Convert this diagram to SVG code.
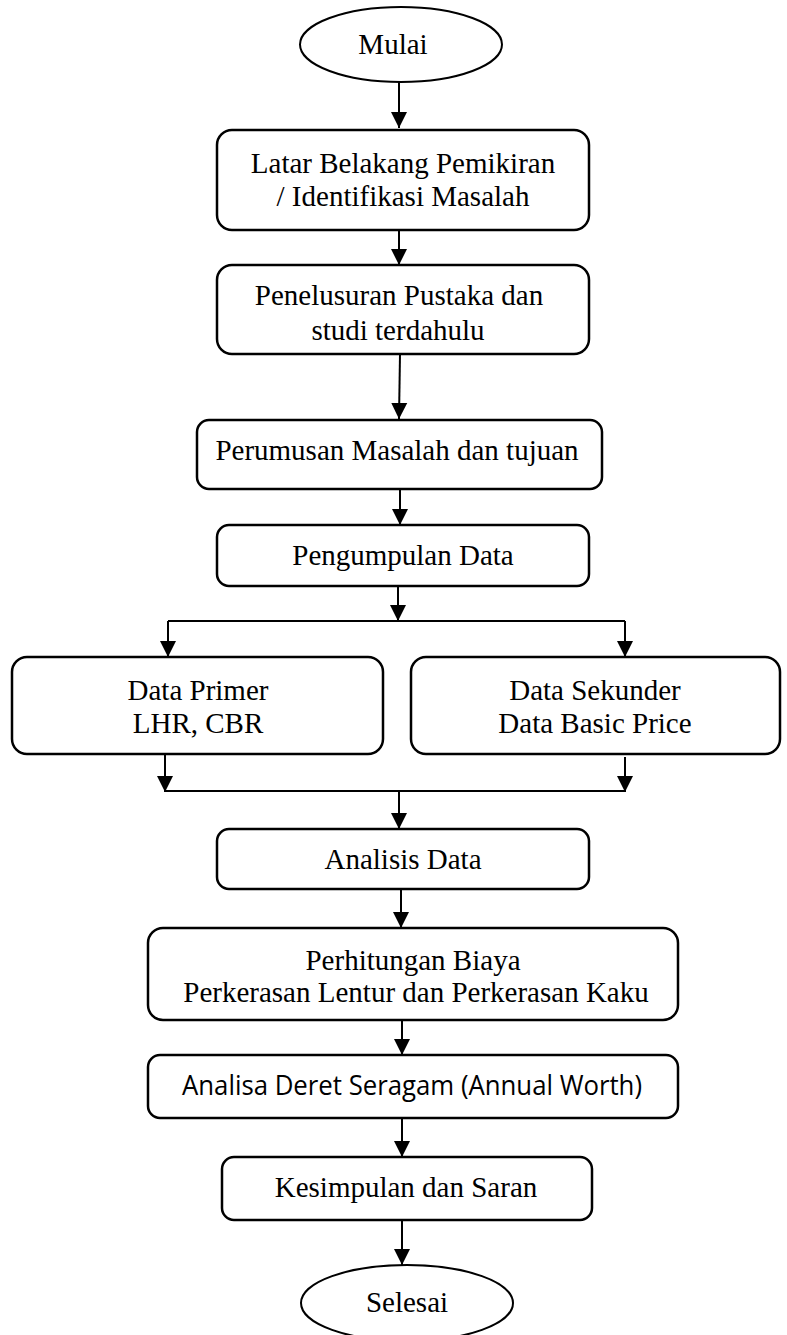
<svg xmlns="http://www.w3.org/2000/svg" width="787" height="1335" viewBox="0 0 787 1335">
<style>
.box{fill:#fff;stroke:#000;stroke-width:2.5}
.ell{fill:#fff;stroke:#000;stroke-width:2}
.t{font-family:"Liberation Serif","Times New Roman",serif;font-size:29px;fill:#000;text-anchor:middle}
.s{font-family:"Open Sans","Liberation Sans",sans-serif;font-size:28px;fill:#000;text-anchor:middle}
.c{fill:none;stroke:#000;stroke-width:2}
</style>
<defs>
<marker id="ah" markerUnits="userSpaceOnUse" markerWidth="18" markerHeight="18" viewBox="0 0 18 18" refX="16" refY="9" orient="auto">
<path d="M0,1 L16,9 L0,17 Z" fill="#000"/>
</marker>
</defs>
<rect width="787" height="1335" fill="#fff"/>
<g id="connectors">
<path class="c" d="M399,82 V128" marker-end="url(#ah)"/>
<path class="c" d="M399,230 V265" marker-end="url(#ah)"/>
<path class="c" d="M400,354 L399,419" marker-end="url(#ah)"/>
<path class="c" d="M400,489 V525" marker-end="url(#ah)"/>
<path class="c" d="M398,586 V621" marker-end="url(#ah)"/>
<path class="c" d="M168,621 H625"/>
<path class="c" d="M168,621 V657" marker-end="url(#ah)"/>
<path class="c" d="M625,621 V657" marker-end="url(#ah)"/>
<path class="c" d="M165,754 V792" marker-end="url(#ah)"/>
<path class="c" d="M625,757 V792" marker-end="url(#ah)"/>
<path class="c" d="M165,791 H625"/>
<path class="c" d="M399,791 V829" marker-end="url(#ah)"/>
<path class="c" d="M401,889 V928" marker-end="url(#ah)"/>
<path class="c" d="M402,1020 V1055" marker-end="url(#ah)"/>
<path class="c" d="M402,1118 V1157" marker-end="url(#ah)"/>
<path class="c" d="M402,1220 V1265" marker-end="url(#ah)"/>
</g>
<g id="mulai">
<ellipse class="ell" cx="401" cy="44.5" rx="101" ry="37.5"/>
<text class="t" x="393" y="54">Mulai</text>
</g>
<g id="latar">
<rect class="box" x="217" y="130" width="372" height="100" rx="15"/>
<text class="t" x="403" y="173">Latar Belakang Pemikiran</text>
<text class="t" x="403" y="206">/ Identifikasi Masalah</text>
</g>
<g id="penelusuran">
<rect class="box" x="217" y="265" width="372" height="89" rx="15"/>
<text class="t" x="399" y="305">Penelusuran Pustaka dan</text>
<text class="t" x="398" y="340">studi terdahulu</text>
</g>
<g id="perumusan">
<rect class="box" x="197" y="420" width="405" height="69" rx="12"/>
<text class="t" x="397" y="460">Perumusan Masalah dan tujuan</text>
</g>
<g id="pengumpulan">
<rect class="box" x="217" y="525" width="372" height="61" rx="12"/>
<text class="t" x="403" y="565">Pengumpulan Data</text>
</g>
<g id="primer">
<rect class="box" x="12" y="657" width="371" height="97" rx="15"/>
<text class="t" x="198" y="700">Data Primer</text>
<text class="t" x="198" y="733">LHR, CBR</text>
</g>
<g id="sekunder">
<rect class="box" x="411" y="657" width="369" height="97" rx="15"/>
<text class="t" x="595" y="700">Data Sekunder</text>
<text class="t" x="595" y="733">Data Basic Price</text>
</g>
<g id="analisis">
<rect class="box" x="217" y="829" width="372" height="60" rx="12"/>
<text class="t" x="403" y="869">Analisis Data</text>
</g>
<g id="perhitungan">
<rect class="box" x="148" y="928" width="530" height="92" rx="15"/>
<text class="t" x="413" y="970">Perhitungan Biaya</text>
<text class="t" x="416" y="1002">Perkerasan Lentur dan Perkerasan Kaku</text>
</g>
<g id="annual">
<rect class="box" x="148" y="1055" width="530" height="63" rx="12"/>
<text class="s" x="412" y="1095" textLength="460" lengthAdjust="spacingAndGlyphs">Analisa Deret Seragam (Annual Worth)</text>
</g>
<g id="kesimpulan">
<rect class="box" x="222" y="1157" width="370" height="63" rx="12"/>
<text class="t" x="406" y="1197">Kesimpulan dan Saran</text>
</g>
<g id="selesai">
<ellipse class="ell" cx="407" cy="1303" rx="106" ry="38"/>
<text class="t" x="407" y="1312">Selesai</text>
</g>
</svg>
